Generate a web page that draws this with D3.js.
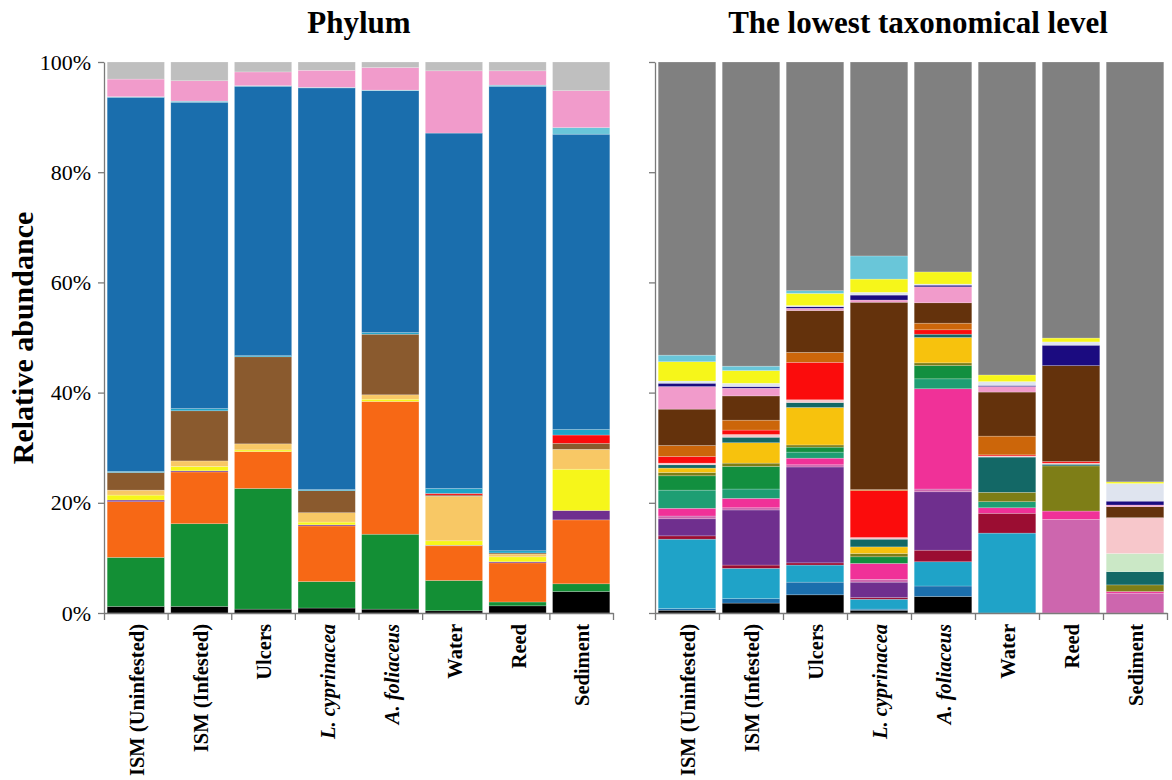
<!DOCTYPE html>
<html>
<head>
<meta charset="utf-8">
<script src="https://cdn.jsdelivr.net/npm/d3@7/dist/d3.min.js"></script>
<style>
  html, body { margin: 0; padding: 0; background: #fff; }
  svg { display: block; }
  text { font-family: "Liberation Serif", "Times New Roman", serif; }
</style>
</head>
<body>
<svg id="chart" width="1172" height="780"></svg>
<script>
// Sample sites (same for both panels)
const samples = ["ISM (Uninfested)", "ISM (Infested)", "Ulcers", "L. cyprinacea",
                 "A. foliaceus", "Water", "Reed", "Sediment"];
const italicSamples = ["L. cyprinacea", "A. foliaceus"];
const yTicks = [0, 20, 40, 60, 80, 100];

// Phylum layers, stacked bottom -> top
const phylumColors = ["#000000", "#138f35", "#f76815", "#6f2f8f", "#f6f61a", "#f8c865",
                      "#8a5a2e", "#fb0c0c", "#1fa3c8", "#1a6ead", "#69c6d9", "#f19bcb", "#bfbfbf"];
// Relative abundance (%) per sample, in layer order
const phylumISMUninfested = [1.2, 8.9, 10.1, 0.3, 0.9, 0.9, 3.2, 0, 0.2, 67.9, 0.1, 3.2, 3.1];
const phylumISMInfested   = [1.2, 15.0, 9.4, 0.2, 0.8, 1.0, 9.1, 0, 0.4, 55.6, 0.2, 3.7, 3.4];
const phylumUlcers        = [0.7, 21.9, 6.7, 0, 0.3, 1.1, 15.8, 0, 0.2, 48.9, 0.1, 2.5, 1.8];
const phylumLCyprinacea   = [0.9, 4.8, 10.1, 0.2, 0.5, 1.7, 4.0, 0, 0.2, 72.9, 0.1, 3.1, 1.5];
const phylumAFoliaceus    = [0.7, 13.6, 24.1, 0, 0.4, 0.8, 11.0, 0, 0.3, 43.9, 0.1, 4.1, 1.0];
const phylumWater         = [0.4, 5.5, 6.3, 0.1, 0.8, 8.1, 0.2, 0.3, 0.9, 64.5, 0, 11.3, 1.6];
const phylumReed          = [1.3, 0.7, 7.1, 0.2, 0.9, 0.5, 0.2, 0, 0.4, 84.3, 0.2, 2.6, 1.6];
const phylumSediment      = [3.9, 1.4, 11.6, 1.7, 7.5, 3.6, 1.1, 1.5, 1.0, 53.6, 1.2, 6.7, 5.2];

// Lowest taxonomical level layers, stacked bottom -> top
const taxonColors = ["#000000", "#1b6fad", "#1fa3c8", "#9b0d32", "#6f2f8e", "#cd66ae",
                     "#f03198", "#1e9e73", "#128f3f", "#7e7e17", "#f7c20d", "#136866",
                     "#cbe8c6", "#f7c7cb", "#fb0c0c", "#cc660a", "#64320c", "#f19bcb",
                     "#1b0b80", "#dfe4ef", "#f6f61a", "#69c6d9", "#808080"];
const taxonISMUninfested = [0.5, 0.3, 12.6, 0.6, 3.1, 0.5, 1.4, 3.3, 2.6, 0.6, 0.8, 0.6, 0, 0.3, 1.2, 2.0, 6.6, 4.1, 0.6, 0.4, 3.5, 1.2, 53.2];
const taxonISMInfested   = [1.8, 0.8, 5.5, 0.6, 10.0, 0.4, 1.7, 1.7, 4.1, 0.6, 3.7, 1.0, 0, 0.5, 0.8, 1.8, 4.4, 1.4, 0.3, 0.6, 2.3, 0.8, 55.2];
const taxonUlcers        = [3.3, 2.3, 3.1, 0.4, 17.4, 0.4, 1.2, 1.1, 0.9, 0.4, 6.8, 0.9, 0, 0.5, 6.8, 1.8, 7.6, 0.4, 0.3, 0.2, 2.2, 0.5, 41.5];
const taxonLCyprinacea   = [0.5, 0.2, 1.8, 0.3, 2.8, 0.5, 2.9, 0, 1.2, 0.6, 1.2, 1.4, 0, 0.3, 8.5, 0.2, 34.0, 0.4, 0.9, 0.5, 2.4, 4.2, 35.2];
const taxonAFoliaceus    = [3.0, 1.9, 4.4, 2.1, 10.6, 0.5, 18.2, 1.8, 2.4, 0.5, 4.6, 0.6, 0, 0, 0.8, 1.2, 3.7, 2.9, 0.3, 0.2, 2.2, 0, 38.1];
const taxonWater         = [0, 0, 14.5, 3.6, 0, 0, 1.0, 1.1, 0, 1.7, 0, 6.4, 0, 0.2, 0.2, 3.4, 8.0, 1.0, 0.2, 0.7, 1.2, 0, 56.8];
const taxonReed          = [0, 0, 0, 0, 0, 17.0, 1.5, 0, 0, 8.2, 0, 0.3, 0, 0.2, 0.3, 0, 17.4, 0, 3.7, 0.6, 0.7, 0, 50.1];
const taxonSediment      = [0, 0, 0, 0, 0, 3.6, 0.3, 0, 0, 1.2, 0, 2.4, 3.3, 6.5, 0, 0, 2.0, 0.3, 0.7, 3.2, 0.3, 0, 76.2];

const phylumRows = [phylumISMUninfested, phylumISMInfested, phylumUlcers, phylumLCyprinacea,
                    phylumAFoliaceus, phylumWater, phylumReed, phylumSediment];
const taxonRows = [taxonISMUninfested, taxonISMInfested, taxonUlcers, taxonLCyprinacea,
                   taxonAFoliaceus, taxonWater, taxonReed, taxonSediment];

const svg = d3.select("#chart");
const yBottom = 613, yTop = 62;
const y = d3.scaleLinear().domain([0, 100]).range([yBottom, yTop]);
const axisColor = "#7a7a7a";

function panel(rows, colors, x0, x1, title, titleX, showTickLabels) {
  const g = svg.append("g");
  const keys = colors.map((c, i) => "k" + i);
  const table = samples.map((s, si) => {
    const o = { sample: s };
    keys.forEach((k, ki) => { o[k] = rows[si][ki]; });
    return o;
  });
  const series = d3.stack().keys(keys)(table);
  const x = d3.scaleBand().domain(samples).range([x0, x1])
    .paddingInner(0.1).paddingOuter(0.05);

  g.append("g").selectAll("g")
    .data(series)
    .join("g")
      .attr("fill", (d, i) => colors[i])
    .selectAll("rect")
    .data(d => d.filter(v => v[1] - v[0] > 0))
    .join("rect")
      .attr("x", d => x(d.data.sample))
      .attr("width", x.bandwidth())
      .attr("y", d => y(d[1]))
      .attr("height", d => y(d[0]) - y(d[1]))
      .attr("stroke", "rgba(255,255,255,0.35)")
      .attr("stroke-width", 0.6);

  // y axis
  const yAxis = d3.axisLeft(y).tickValues(yTicks)
    .tickFormat(showTickLabels ? (d => d + "%") : "")
    .tickSize(6).tickSizeOuter(0).tickPadding(7);
  const ya = g.append("g").attr("transform", `translate(${x0},0)`).call(yAxis);
  ya.selectAll("path, line").attr("stroke", axisColor).attr("stroke-width", 1.3);
  ya.selectAll("text").attr("font-size", 22).attr("fill", "#000")
    .attr("font-family", "Liberation Serif");

  // x axis with boundary ticks between samples
  const xb = d3.scaleLinear().domain([0, samples.length]).range([x0, x1]);
  const xAxis = d3.axisBottom(xb).tickValues(d3.range(samples.length + 1))
    .tickFormat("").tickSize(7).tickSizeOuter(0);
  const xa = g.append("g").attr("transform", `translate(0,${yBottom})`).call(xAxis);
  xa.selectAll("path, line").attr("stroke", axisColor).attr("stroke-width", 1.3);

  // category labels
  g.append("g").selectAll("text")
    .data(samples)
    .join("text")
      .attr("transform", d => `translate(${x(d) + x.bandwidth() / 2 + 1},624) rotate(-90)`)
      .attr("text-anchor", "end")
      .attr("dy", "0.35em")
      .attr("font-size", 20.5)
      .attr("font-weight", "bold")
      .attr("font-style", d => italicSamples.includes(d) ? "italic" : "normal")
      .text(d => d);

  // panel title
  g.append("text")
    .attr("x", titleX).attr("y", 33)
    .attr("text-anchor", "middle")
    .attr("font-size", 31)
    .attr("font-weight", "bold")
    .text(title);
}

panel(phylumRows, phylumColors, 104, 613, "Phylum", 359, true);
panel(taxonRows, taxonColors, 655, 1167, "The lowest taxonomical level", 918, false);

// shared y-axis title
svg.append("text")
  .attr("transform", "translate(33,338) rotate(-90)")
  .attr("text-anchor", "middle")
  .attr("font-size", 30)
  .attr("font-weight", "bold")
  .text("Relative abundance");
</script>
</body>
</html>
